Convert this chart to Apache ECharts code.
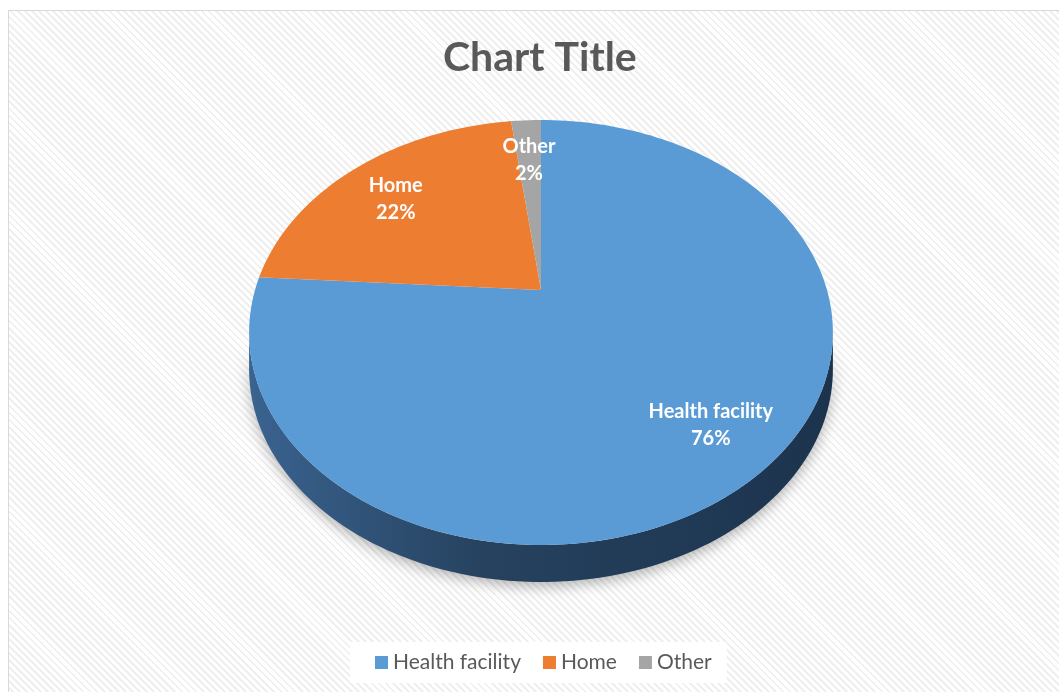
<!DOCTYPE html>
<html>
<head>
<meta charset="utf-8">
<title>Chart Title</title>
<script src="https://cdn.jsdelivr.net/npm/echarts@6/dist/echarts.min.js"></script>
<style>
html, body { margin: 0; padding: 0; background: #fff; overflow: hidden; }
#frame {
	position: absolute; left: 8px; top: 10px; width: 1060px; height: 690px;
	border: 1px solid #d9d9d9;
	background: repeating-linear-gradient(45deg, #fff 0, #fff 3px, #efefef 3px, #efefef 5px);
}
#main { position: absolute; left: 0; top: 0; width: 1059px; height: 692px; }
</style>
</head>
<body>
<div id="frame"></div>
<div id="main"></div>
<script>
// data
var categories = ['Health facility', 'Home', 'Other'];
var values = [76, 22, 2];
var colors = ['#5b9bd5', '#ed7d31', '#a5a5a5'];

// tilted pie: unit disc seen in perspective
var cx = 541, cy = 290;     // screen position of the pie centre
var sx = 286, sy = 204;     // horizontal / vertical scale
var persp = 0.2;            // perspective strength (near side bigger)
var depth = 37;             // thickness of the pie
var labelR = 0.77;          // label distance, fraction of radius
var labelDy = 6;            // labels sit a bit lower (on the 3d face)

var total = values.reduce(function(a, b) { return a + b; }, 0);

function proj(r, a, dy) {
	var u = r * Math.cos(a), v = r * Math.sin(a);
	var w = 1 - persp * v;
	return [cx + sx * u / w, cy + sy * v / w + (dy || 0)];
}

function sliceAngles(i) {
	var before = 0;
	for (var k = 0; k < i; k++) before += values[k];
	var a0 = -Math.PI / 2 + 2 * Math.PI * before / total;
	var a1 = a0 + 2 * Math.PI * values[i] / total;
	return [a0, a1];
}

function arcPts(a0, a1, dy) {
	var pts = [];
	var n = Math.max(2, Math.ceil((a1 - a0) / (Math.PI / 120)));
	for (var k = 0; k <= n; k++) {
		pts.push(proj(1, a0 + (a1 - a0) * k / n, dy));
	}
	return pts;
}

function renderSlice(params, api) {
	var i = params.seriesIndex;
	var ang = sliceAngles(i);
	var children = [];
	// front wall, between the two silhouette points of the rim
	var sil = Math.asin(persp);
	var s0 = Math.max(ang[0], sil), s1 = Math.min(ang[1], Math.PI - sil);
	if (s1 > s0) {
		var top = arcPts(s0, s1, 0);
		var bottom = arcPts(s0, s1, depth).reverse();
		children.push({
			type: 'polygon',
			z2: 0,
			shape: { points: top.concat(bottom) },
			style: {
				fill: {
					type: 'linear', x: 0, y: 0, x2: 1, y2: 0,
					colorStops: [
						{ offset: 0, color: '#3a6390' },
						{ offset: 0.4, color: '#26425f' },
						{ offset: 1, color: '#1c334d' }
					]
				},
				shadowBlur: 14,
				shadowColor: 'rgba(0,0,0,0.3)',
				shadowOffsetY: 4
			}
		});
	}
	// top face
	children.push({
		type: 'polygon',
		z2: 10,
		shape: { points: [[cx, cy]].concat(arcPts(ang[0], ang[1], 0)) },
		style: { fill: colors[i] }
	});
	// label
	var mid = (ang[0] + ang[1]) / 2;
	var pos = proj(labelR, mid, labelDy);
	var pct = Math.round(values[i] / total * 100);
	children.push({
		type: 'text',
		z2: 20,
		x: pos[0],
		y: pos[1],
		style: {
			text: categories[i] + '\n' + pct + '%',
			fill: '#fff',
			font: 'bold 20px Lato, "Open Sans", sans-serif',
			align: 'center',
			verticalAlign: 'middle',
			lineHeight: 27
		}
	});
	return { type: 'group', children: children };
}

var chart = echarts.init(document.getElementById('main'));
var series = categories.map(function(name, i) {
	return {
		type: 'custom',
		name: name,
		coordinateSystem: 'none',
		itemStyle: { color: colors[i] },
		renderItem: renderSlice,
		data: [values[i]],
		silent: true
	};
});

chart.setOption({
	animation: false,
	color: colors,
	title: {
		text: 'Chart Title',
		left: 438,
		top: 32,
		textStyle: {
			fontSize: 41,
			fontWeight: 'bold',
			color: '#595959',
			fontFamily: 'Lato, "Open Sans", sans-serif'
		}
	},
	legend: {
		data: categories,
		bottom: 9,
		left: 350,
		icon: 'rect',
		itemWidth: 13,
		itemHeight: 13,
		itemGap: 22,
		padding: [10, 15, 10, 25],
		backgroundColor: '#fff',
		textStyle: {
			fontSize: 21,
			color: '#595959',
			fontFamily: 'Lato, "Open Sans", sans-serif'
		}
	},
	series: series
});
</script>
</body>
</html>
